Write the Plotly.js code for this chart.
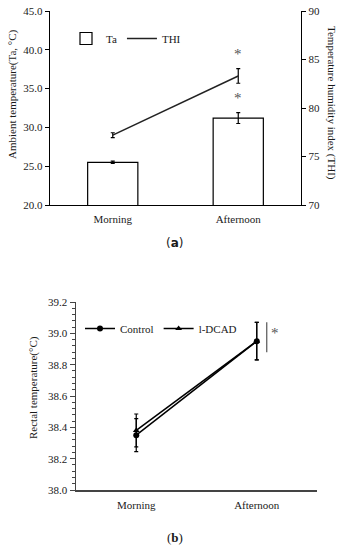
<!DOCTYPE html>
<html>
<head>
<meta charset="utf-8">
<script src="https://cdn.plot.ly/plotly-3.0.1.min.js"></script>
<style>html,body{margin:0;padding:0;background:#fff}#chart{width:346px;height:550px}</style>
</head>
<body>
<div id="chart"></div>
<script>
// ---- data ----
var categories = ['Morning', 'Afternoon'];
// panel (a)
var taMean = [25.5, 31.2];
var taErr = [0.15, 0.7];
var thiMean = [77.2, 83.3];
var thiErr = [0.25, 0.75];
// panel (b)
var controlMean = [38.35, 38.95];
var controlErr = [0.105, 0.12];
var dcadMean = [38.38, 38.95];
var dcadErr = [0.105, 0.12];

var W = 346, H = 550;
function px(x){return x / W;}
function py(y){return 1 - y / H;}
var FONT = 'Liberation Serif, Times New Roman, serif';
var TXT = '#1a1a1a';

var traces = [
  {type:'bar', name:'Ta', x:categories, y:taMean, width:0.4,
   marker:{color:'#ffffff', line:{color:'#000', width:1.2}},
   error_y:{type:'data', array:taErr, visible:true, color:'#000', thickness:1.2, width:2},
   xaxis:'x', yaxis:'y', legend:'legend'},
  {type:'scatter', mode:'lines', name:'THI', x:categories, y:thiMean,
   line:{color:'#222', width:1.5},
   error_y:{type:'data', array:thiErr, visible:true, color:'#000', thickness:1.2, width:2},
   xaxis:'x', yaxis:'y2', legend:'legend'},
  {type:'scatter', mode:'lines+markers', name:'Control', x:categories, y:controlMean,
   line:{color:'#000', width:1.5}, marker:{symbol:'circle', size:6, color:'#000'},
   error_y:{type:'data', array:controlErr, visible:true, color:'#000', thickness:1.2, width:2},
   xaxis:'x3', yaxis:'y3', legend:'legend2'},
  {type:'scatter', mode:'lines+markers', name:'l-DCAD', x:categories, y:dcadMean,
   line:{color:'#000', width:1.5}, marker:{symbol:'triangle-up', size:6, color:'#000'},
   error_y:{type:'data', array:dcadErr, visible:true, color:'#000', thickness:1.2, width:2},
   xaxis:'x3', yaxis:'y3', legend:'legend2'}
];

var tickFont = {family:FONT, size:11, color:TXT};
function lab(x, y, text, angle, font){
  return {xref:'paper', yref:'paper', x:px(x), y:py(y), text:text, textangle:angle || 0,
    xanchor:'center', yanchor:'middle', showarrow:false, font:font};
}
var layout = {
  width:W, height:H, margin:{l:0, r:0, t:0, b:0},
  paper_bgcolor:'#fff', plot_bgcolor:'rgba(0,0,0,0)',
  font:{family:FONT, size:11, color:TXT},
  showlegend:true,
  xaxis:{domain:[px(50), px(301)], anchor:'y', type:'category', range:[-0.5, 1.5],
    showline:true, linecolor:'#000', linewidth:1.2, ticks:'', showgrid:false, zeroline:false,
    tickfont:tickFont, ticklabelstandoff:4},
  yaxis:{domain:[py(205), py(11)], anchor:'x', range:[20, 45], dtick:5, tickformat:'.1f',
    showline:true, linecolor:'#000', linewidth:1.2, ticks:'outside', ticklen:4, tickcolor:'#000',
    showgrid:false, zeroline:false, tickfont:tickFont},
  yaxis2:{overlaying:'y', side:'right', anchor:'x', range:[70, 90], dtick:5,
    showline:true, linecolor:'#000', linewidth:1.2, ticks:'outside', ticklen:4, tickcolor:'#000',
    showgrid:false, zeroline:false, tickfont:tickFont},
  xaxis3:{domain:[px(76), px(317)], anchor:'y3', type:'category', range:[-0.5, 1.5],
    showline:true, linecolor:'#444', linewidth:1.5, ticks:'', showgrid:false, zeroline:false,
    tickfont:tickFont, ticklabelstandoff:4},
  yaxis3:{domain:[py(490), py(302)], anchor:'x3', range:[38, 39.2], dtick:0.2, tickformat:'.1f',
    showline:true, linecolor:'#444', linewidth:1.5, ticks:'outside', ticklen:5, tickcolor:'#444',
    minor:{dtick:0.04, ticks:'outside', ticklen:3, tickcolor:'#444'},
    showgrid:false, zeroline:false, tickfont:tickFont},
  legend:{x:px(66), y:py(24), xanchor:'left', yanchor:'top', orientation:'h',
    bgcolor:'rgba(0,0,0,0)', font:{family:FONT, size:11, color:TXT}, itemwidth:30},
  legend2:{x:px(80), y:py(314), xanchor:'left', yanchor:'top', orientation:'h',
    bgcolor:'rgba(0,0,0,0)', font:{family:FONT, size:11, color:TXT}, itemwidth:30},
  annotations:[
    lab(12, 94, 'Ambient temperature(Ta, °C)', -90, {family:FONT, size:11, color:TXT}),
    lab(331, 103, 'Temperature humidity index (THI)', 90, {family:FONT, size:11, color:TXT}),
    {xref:'x', yref:'y2', x:categories[1], y:thiMean[1] + thiErr[1], yshift:15, text:'*',
     showarrow:false, font:{family:FONT, size:15, color:'#555'}},
    {xref:'x', yref:'y', x:categories[1], y:taMean[1] + taErr[1], yshift:15, text:'*',
     showarrow:false, font:{family:FONT, size:15, color:'#555'}},
    lab(174, 243, '(<b>a</b>)', 0, {family:'DejaVu Sans, sans-serif', size:12, color:TXT}),
    lab(33, 388, 'Rectal temperature(°C)', -90, {family:FONT, size:11, color:TXT}),
    {xref:'x3', yref:'y3', x:1.15, y:39.0, text:'*', showarrow:false,
     font:{family:FONT, size:15, color:'#555'}},
    lab(175, 537, '(<b>b</b>)', 0, {family:FONT, size:13, color:TXT})
  ],
  shapes:[
    {type:'line', xref:'x3', yref:'y3', x0:1.083, x1:1.083, y0:38.88, y1:39.07,
     line:{color:'#555', width:1.2}}
  ]
};

Plotly.newPlot('chart', traces, layout, {displayModeBar:false, staticPlot:true});
</script>
</body>
</html>
